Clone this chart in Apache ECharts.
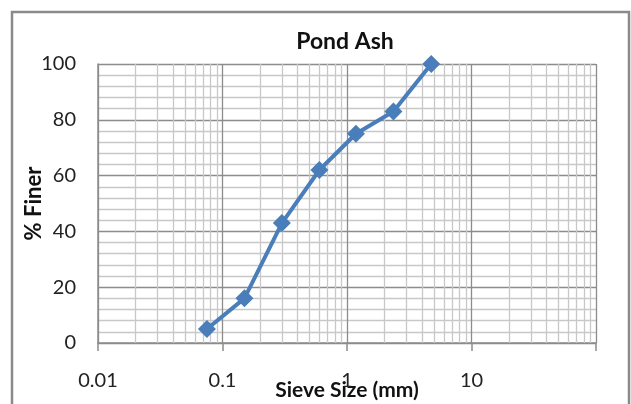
<!DOCTYPE html>
<html>
<head>
<meta charset="utf-8">
<script src="https://cdn.jsdelivr.net/npm/echarts@6/dist/echarts.min.js"></script>
<style>html,body{margin:0;padding:0;background:#fff}#c{width:631px;height:404px}</style>
</head>
<body>
<div id="c"></div>
<script>
const sieveSizes = [0.075, 0.15, 0.3, 0.6, 1.18, 2.36, 4.75];
const percentFiner = [5, 16, 43, 62, 75, 83, 100];
const xTickLabels = ['0.01', '0.1', '1', '10'];
const xMinorGrid = [0.02,0.03,0.04,0.05,0.06,0.07,0.08,0.09,
                    0.2,0.3,0.4,0.5,0.6,0.7,0.8,0.9,
                    2,3,4,5,6,7,8,9,
                    20,30,40,50,60,70,80,90];
const titleText = 'Pond Ash';
const xName = 'Sieve Size (mm)';
const yName = '% Finer';

const font = 'Lato';
const chart = echarts.init(document.getElementById('c'), null, {renderer: 'canvas'});
chart.setOption({
  animation: false,
  backgroundColor: '#fff',
  graphic: [{
    type: 'rect', shape: {x: 12, y: 12, width: 617, height: 420},
    style: {fill: 'none', stroke: '#8a8a8a', lineWidth: 2.5}, silent: true, z: -10
  }],
  title: {
    text: titleText, left: 340, top: 25, textAlign: 'center',
    textStyle: {fontFamily: font, fontWeight: 'bold', fontSize: 23, color: '#111'}
  },
  grid: {left: 98, right: 35, top: 64, bottom: 61, containLabel: false, outerBoundsMode: 'none'},
  xAxis: {
    type: 'log', logBase: 10, min: 0.01, max: 100,
    name: xName, nameLocation: 'middle', nameGap: 37, nameMoveOverlap: false,
    nameTextStyle: {fontFamily: font, fontWeight: 'bold', fontSize: 21, color: '#111'},
    axisLine: {show: true, onZero: false, lineStyle: {color: '#8c8c8c', width: 1.5}},
    axisTick: {show: true, length: 8, lineStyle: {color: '#8c8c8c', width: 1.5}},
    axisLabel: {
      margin: 28, fontFamily: font, fontSize: 20, color: '#222',
      formatter: function (v) { const s = String(+v.toPrecision(3)); return xTickLabels.indexOf(s) >= 0 ? s : ''; }
    },
    splitLine: {show: true, lineStyle: {color: '#8c8c8c', width: 1.3}},
    minorTick: {show: false}, minorSplitLine: {show: false}
  },
  yAxis: {
    type: 'value', min: 0, max: 100, interval: 20,
    name: yName, nameLocation: 'middle', nameGap: 53, nameMoveOverlap: false,
    nameTextStyle: {fontFamily: font, fontWeight: 'bold', fontSize: 22, color: '#111'},
    axisLine: {show: true, lineStyle: {color: '#8c8c8c', width: 1.5}},
    axisTick: {show: false},
    axisLabel: {margin: 22, fontFamily: font, fontSize: 20, color: '#222'},
    splitLine: {show: true, lineStyle: {color: '#8c8c8c', width: 1.3}},
    minorTick: {show: false, splitNumber: 5},
    minorSplitLine: {show: true, lineStyle: {color: '#c8c8c8', width: 1.3}}
  },
  series: [{
    type: 'line', data: [], z: 1, silent: true,
    markLine: {
      silent: true, symbol: 'none', animation: false,
      label: {show: false},
      lineStyle: {type: 'solid', color: '#c8c8c8', width: 1.3},
      data: xMinorGrid.map(v => ({xAxis: v}))
    }
  }, {
    type: 'line', z: 5,
    data: sieveSizes.map((s, i) => [s, percentFiner[i]]),
    symbol: 'diamond', symbolSize: 18,
    lineStyle: {color: '#4a7ebb', width: 4},
    itemStyle: {color: '#4a7ebb'}
  }]
});
</script>
</body>
</html>
